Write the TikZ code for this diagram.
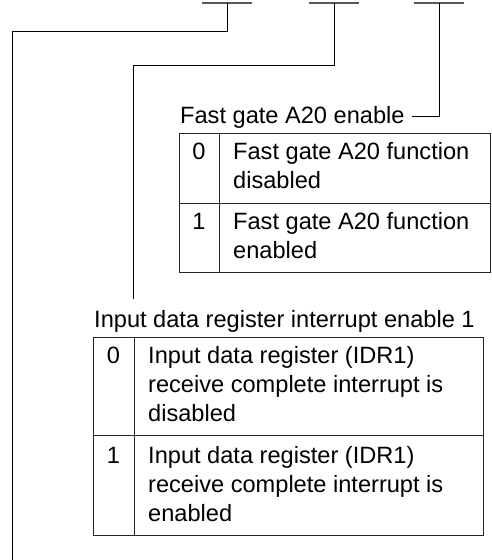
\documentclass[tikz,border=0pt]{standalone}
\usepackage{fontspec}
\setmainfont{Liberation Sans}
\newcommand{\fsz}{\fontsize{23.6}{29}\selectfont}
\begin{document}
\begin{tikzpicture}[x=1pt,y=-1pt,
  ln/.style={line width=1pt,black},
  barln/.style={line width=1.3pt,black!65},
  gridln/.style={line width=1pt,black!85},
  txt/.style={anchor=base west,inner sep=0pt,font=\fsz},
  num/.style={anchor=base,inner sep=0pt,font=\fsz}]
\useasboundingbox (0,0) rectangle (492,560);
% bit bars
\coordinate (b1) at (227,3);
\coordinate (b2) at (334,3);
\coordinate (b3) at (439,3);
\draw[barln] (202,3) -- (252,3);
\draw[barln] (309,3) -- (359,3);
\draw[barln] (414,3) -- (464,3);
% labels
\node[txt] (lab3) at (180,123) {Fast gate A20 enable};
\node[txt] (lab2) at (94,327) {Input data register interrupt enable 1};
% connectors
\coordinate (k1) at (12,31);
\coordinate (e1) at (12,560);
\coordinate (k2) at (133,65);
\coordinate (e2) at (133,299);
\coordinate (e3) at (412,116);
\draw[ln] (b1) |- (k1) -- (e1);
\draw[ln] (b2) |- (k2) -- (e2);
\draw[ln] (b3) |- (e3);
% upper table
\draw[gridln] (179,133) rectangle (490,272);
\draw[gridln] (219,133) -- (219,272);
\draw[gridln] (179,203) -- (490,203);
\node[num] (u0) at (199,159) {0};
\node[num] (u1) at (199,229) {1};
\node[txt] (u0a) at (233,159) {Fast gate A20 function};
\node[txt] (u0b) at (233,188) {disabled};
\node[txt] (u1a) at (233,229) {Fast gate A20 function};
\node[txt] (u1b) at (233,258) {enabled};
% lower table
\draw[gridln] (93,337) rectangle (483,535);
\draw[gridln] (134,337) -- (134,535);
\draw[gridln] (93,435) -- (483,435);
\node[num] (l0) at (113.5,363) {0};
\node[num] (l1) at (113.5,463) {1};
\node[txt] (l0a) at (148,363) {Input data register (IDR1)};
\node[txt] (l0b) at (148,392) {receive complete interrupt is};
\node[txt] (l0c) at (148,421) {disabled};
\node[txt] (l1a) at (148,463) {Input data register (IDR1)};
\node[txt] (l1b) at (148,492) {receive complete interrupt is};
\node[txt] (l1c) at (148,521) {enabled};
\end{tikzpicture}
\end{document}
